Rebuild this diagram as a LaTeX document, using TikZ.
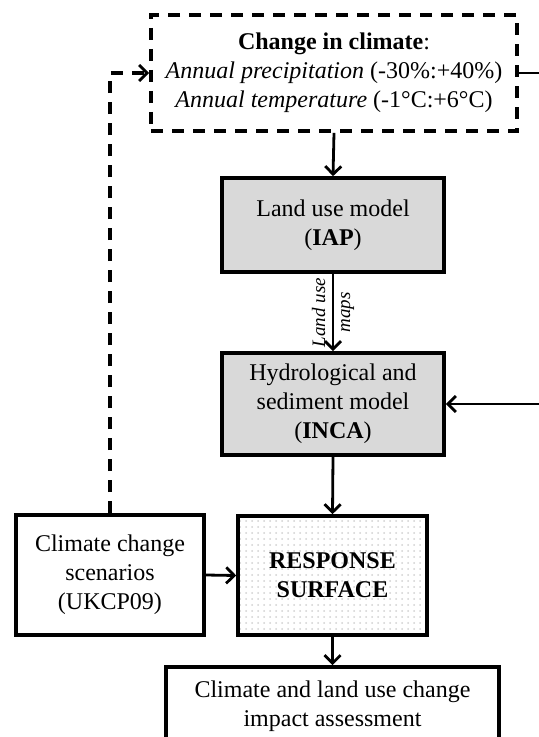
\documentclass[tikz,border=0pt]{standalone}
\usepackage{fontspec}
\setmainfont{Liberation Serif}
\usepackage{tikz}
\usetikzlibrary{positioning,arrows.meta,patterns}

\tikzset{
  box/.style={draw, line width=1.8pt, align=center, inner sep=0pt, font=\fontsize{12}{14.5}\selectfont},
  greybox/.style={box, fill=black!15},
  dashbox/.style={box, dashed, dash pattern=on 6pt off 4.5pt},
  flow/.style={line width=1.4pt, -{Straight Barb[length=4pt,width=8pt,line width=1.4pt]}},
}

\begin{document}
\begin{tikzpicture}[x=0.5pt,y=-0.5pt]
\useasboundingbox (0,0) rectangle (538,737);
\fill[white] (0,0) rectangle (538,737);
\node[dashbox, minimum width=183pt, minimum height=58pt] (climate) at (334,73)
  {\textbf{Change in climate}:\\ \textit{Annual precipitation} (-30\%:+40\%)\\ \textit{Annual temperature} (-1°C:+6°C)};
\node[greybox, minimum width=111pt, minimum height=47pt] (landuse) at (333,225)
  {Land use model\\ (\textbf{IAP})};
\node[greybox, minimum width=111pt, minimum height=51pt] (inca) at (333,404)
  {Hydrological and\\ sediment model\\ (\textbf{INCA})};
\node[box, pattern=dots, pattern color=black!18, minimum width=94.5pt, minimum height=59.5pt] (response) at (332.5,575.5)
  {\textbf{RESPONSE}\\ \textbf{SURFACE}};
\node[box, minimum width=94pt, minimum height=60pt] (scenarios) at (110,575)
  {Climate change\\ scenarios\\ (UKCP09)};
\node[box, minimum width=166.5pt, minimum height=39pt] (impact) at (332.5,706)
  {Climate and land use change\\ impact assessment};
\coordinate (rightturn) at (570,73);
\draw[flow] (climate.south) -- (landuse.north);
\draw[flow] (landuse.south) -- node[rotate=90, align=center, font=\fontsize{9.5}{12.5}\selectfont\itshape] {Land use\\ maps} (inca.north);
\draw[flow] (inca.south) -- (response.north);
\draw[flow] (scenarios.east) -- (response.west);
\draw[flow] (response.south) -- (impact.north);
\draw[flow, line width=1.7pt, dashed, dash pattern=on 6pt off 4.5pt] (scenarios.north) |- (climate.west);
\draw[flow] (climate.east) -- (rightturn) |- (inca.east);
\end{tikzpicture}
\end{document}
